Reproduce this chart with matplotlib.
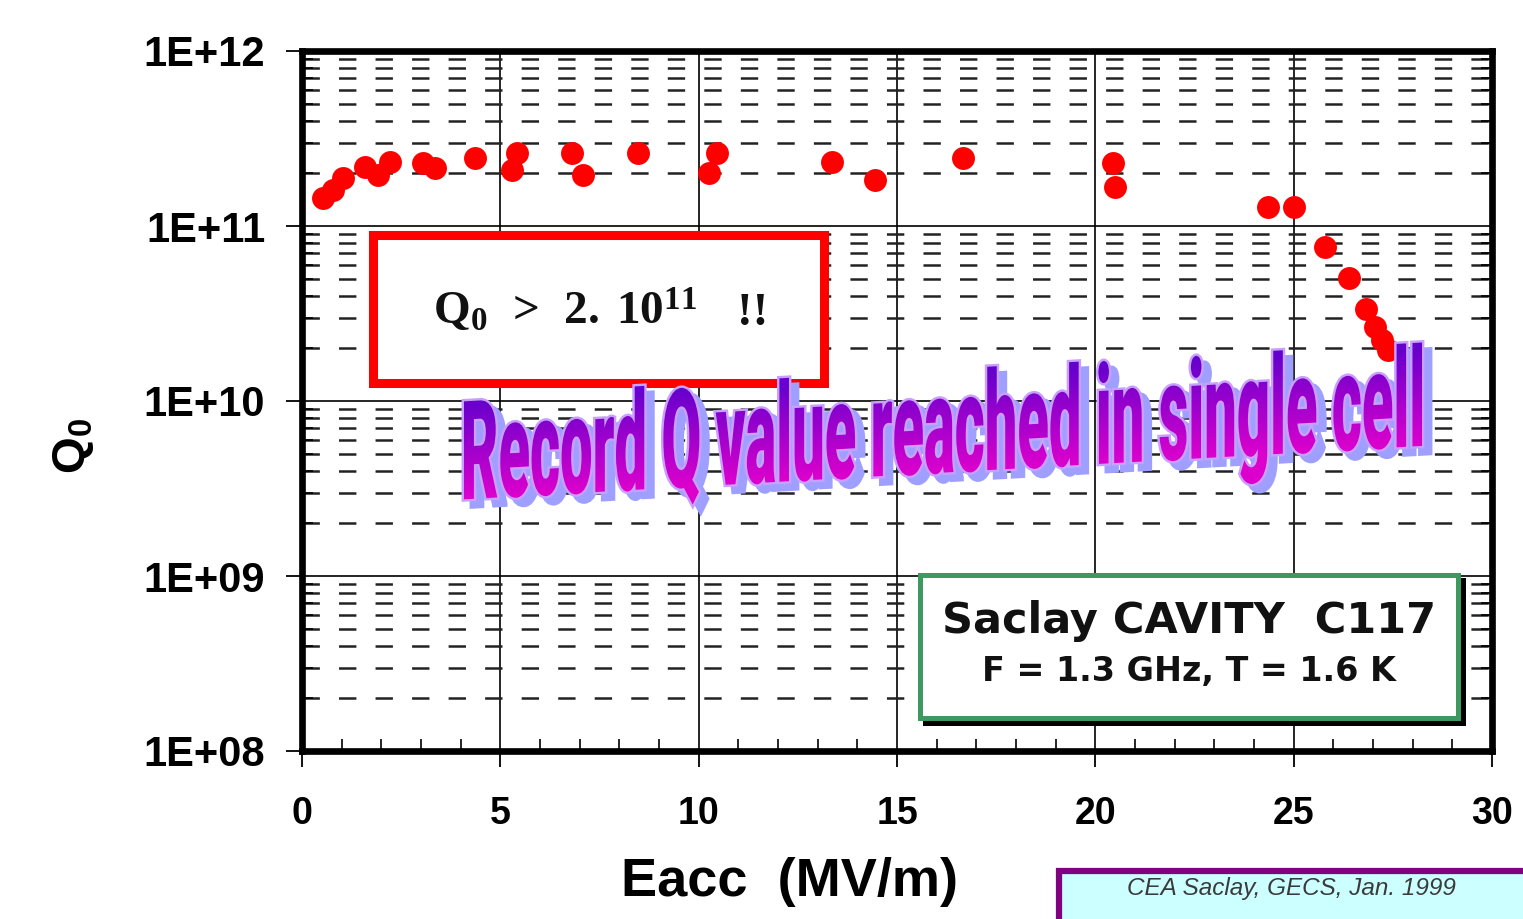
import numpy as np
import matplotlib
matplotlib.use("Agg")
import matplotlib.pyplot as plt
import matplotlib.transforms as mtransforms
from matplotlib.patches import Rectangle, PathPatch
from matplotlib.textpath import TextPath
from matplotlib.font_manager import FontProperties
from matplotlib.ticker import FixedLocator, FixedFormatter, MultipleLocator, LogLocator, NullFormatter

plt.rcParams['font.family'] = ['Liberation Sans', 'DejaVu Sans']
plt.rcParams['lines.scale_dashes'] = False
plt.rcParams['mathtext.fontset'] = 'custom'
plt.rcParams['mathtext.sf'] = 'Liberation Sans:bold'
plt.rcParams['mathtext.bf'] = 'Liberation Serif:bold'
plt.rcParams['mathtext.rm'] = 'Liberation Serif'

# Measured Q0 vs accelerating gradient, cavity C117
e_acc = [0.53, 0.78, 1.03, 1.59, 1.92, 2.22, 3.05, 3.35, 4.36, 5.29, 5.42,
         6.81, 7.08, 8.47, 10.26, 10.46, 13.36, 14.44, 16.66, 20.44, 20.49,
         24.35, 25.01, 25.79, 26.39, 26.82, 27.05, 27.22, 27.38]
q0 = [1.45e11, 1.61e11, 1.88e11, 2.17e11, 1.95e11, 2.32e11, 2.29e11, 2.14e11,
      2.45e11, 2.09e11, 2.61e11, 2.61e11, 1.95e11, 2.61e11, 2.01e11, 2.61e11,
      2.32e11, 1.83e11, 2.45e11, 2.29e11, 1.67e11, 1.28e11, 1.28e11, 7.6e10,
      5.05e10, 3.36e10, 2.65e10, 2.23e10, 1.95e10]

x_ticks = [0, 5, 10, 15, 20, 25, 30]
x_tick_labels = ['0', '5', '10', '15', '20', '25', '30']
y_ticks = [1e8, 1e9, 1e10, 1e11, 1e12]
y_tick_labels = ['1E+08', '1E+09', '1E+10', '1E+11', '1E+12']

banner = 'Record Q value reached in single cell'

W, H = 1523, 919
fig = plt.figure(figsize=(W / 100, H / 100), dpi=100)
fig.patch.set_facecolor('white')

ax = fig.add_axes([302 / W, 1 - 751 / H, (1492 - 302) / W, (751 - 51) / H])
ax.set_yscale('log')
ax.set_xlim(0, 30)
ax.set_ylim(1e8, 1e12)

ax.xaxis.set_major_locator(FixedLocator(x_ticks))
ax.xaxis.set_major_formatter(FixedFormatter(x_tick_labels))
ax.xaxis.set_minor_locator(MultipleLocator(1))
ax.yaxis.set_major_locator(FixedLocator(y_ticks))
ax.yaxis.set_major_formatter(FixedFormatter(y_tick_labels))
ax.yaxis.set_minor_locator(LogLocator(base=10, subs=np.arange(2, 10)))
ax.yaxis.set_minor_formatter(NullFormatter())

ax.grid(which='major', axis='both', color='black', lw=1.2, ls='-')
ax.grid(which='minor', axis='y', color='#222222', lw=1.8, ls=(0, (12.5, 13.8)))
ax.grid(which='minor', axis='x', visible=False)

ax.tick_params(axis='x', which='major', direction='out', length=11.5, width=1.3,
               pad=21, labelsize=27)
ax.tick_params(axis='x', which='minor', direction='in', length=9, width=1.2)
ax.tick_params(axis='y', which='major', direction='out', length=11.5, width=1.3,
               pad=15, labelsize=30)
ax.tick_params(axis='y', which='minor', direction='in', length=8, width=1.2,
               left=True, right=True)
for lab in ax.get_xticklabels() + ax.get_yticklabels():
    lab.set_fontweight('bold')

for sp in ax.spines.values():
    sp.set_linewidth(4.8)
    sp.set_color('black')
    sp.set_capstyle('projecting')

ax.plot(e_acc, q0, 'o', color='#ff0000', ms=16.5, mec='none', zorder=3)

fig.text(790 / W, 1 - 882 / H, 'Eacc  (MV/m)', fontsize=39, fontweight='bold',
         ha='center', va='center')
fig.text(73 / W, 1 - 446 / H, r'$\mathsf{Q_0}$', fontsize=34, rotation=90,
         ha='center', va='center')

# Overlay in figure pixel coordinates for the annotation boxes and banner
ov = fig.add_axes([0, 0, 1, 1], zorder=5)
ov.set_xlim(0, W)
ov.set_ylim(H, 0)
ov.set_autoscale_on(False)
ov.axis('off')
ov.patch.set_alpha(0)

ov.add_patch(Rectangle((373, 235), 451, 148, facecolor='white', edgecolor='#ff0000',
                       lw=6.5, joinstyle='miter'))
ov.text(433, 325, r'$\mathbf{Q_0\ >\ 2.\,10^{11}}$', fontsize=34,
        color='#111111', ha='left', va='baseline')
ov.text(737, 325, '!!', fontsize=34, fontweight='bold', family='Liberation Serif',
        color='#111111', ha='left', va='baseline')

ov.add_patch(Rectangle((925, 580), 538, 143, fill=False, edgecolor='black',
                       lw=3.6, joinstyle='miter'))
ov.add_patch(Rectangle((920, 575), 538, 143, facecolor='white', edgecolor='#3d9960',
                       lw=3.6, joinstyle='miter'))
ov.text(1189, 621, 'Saclay CAVITY  C117', fontsize=31, fontweight='bold',
        family='DejaVu Sans', color='#111111', ha='center', va='center')
ov.text(1189, 672, 'F = 1.3 GHz, T = 1.6 K', fontsize=24, fontweight='bold',
        family='DejaVu Sans', color='#111111', ha='center', va='center')

ov.add_patch(Rectangle((1059, 871), 520, 100, facecolor='#ccffff', edgecolor='#800080',
                       lw=4.5, joinstyle='miter'))
ov.text(1291, 889, 'CEA Saclay, GECS, Jan. 1999', fontsize=17.5, style='italic',
        color='#3a3a3a', ha='center', va='center')

# Slanted gradient banner
fp = FontProperties(family=['Roboto', 'DejaVu Sans'], weight='black')
tp = TextPath((0, 0), banner, size=1, prop=fp)
bb = tp.get_extents()
cap_h = TextPath((0, 0), 'R', size=1, prop=fp).get_extents().y1
sx = (1422 - 464) / bb.width
sy = 98 / cap_h
slope = -53 / 950
x0 = 464 - sx * bb.x0
T = mtransforms.Affine2D(np.array([[sx, 0, x0],
                                   [slope * sx, -sy, 499 + slope * (x0 - 470)],
                                   [0, 0, 1]]))

shadow = PathPatch(tp, transform=T + mtransforms.Affine2D().translate(8, 7) + ov.transData,
                   facecolor='#9f9fff', edgecolor='#9f9fff', lw=3.5, zorder=1)
ov.add_patch(shadow)
halo = PathPatch(tp, transform=T + ov.transData, facecolor='#c8a0ff',
                 edgecolor='#c8a0ff', lw=3.5, zorder=1.5)
ov.add_patch(halo)

ys = np.linspace(bb.y0, bb.y1, 256)
t = np.clip(ys / cap_h, 0, 1)[:, None, None]
top_c = np.array([0x66, 0x00, 0xcc]) / 255
bot_c = np.array([0xdd, 0x00, 0xcc]) / 255
grad = bot_c[None, None, :] * (1 - t) + top_c[None, None, :] * t
grad = np.repeat(grad, 2, axis=1)

fill_clip = PathPatch(tp, transform=T + ov.transData, facecolor='none',
                      edgecolor='none', zorder=3)
ov.add_patch(fill_clip)
im = ov.imshow(grad, extent=(bb.x0, bb.x1, bb.y0, bb.y1), origin='lower',
               aspect='auto', interpolation='bilinear', zorder=2)
im.set_transform(T + ov.transData)
im.set_clip_path(fill_clip)

ov.set_xlim(0, W)
ov.set_ylim(H, 0)

fig.savefig('out.png', dpi=100)
